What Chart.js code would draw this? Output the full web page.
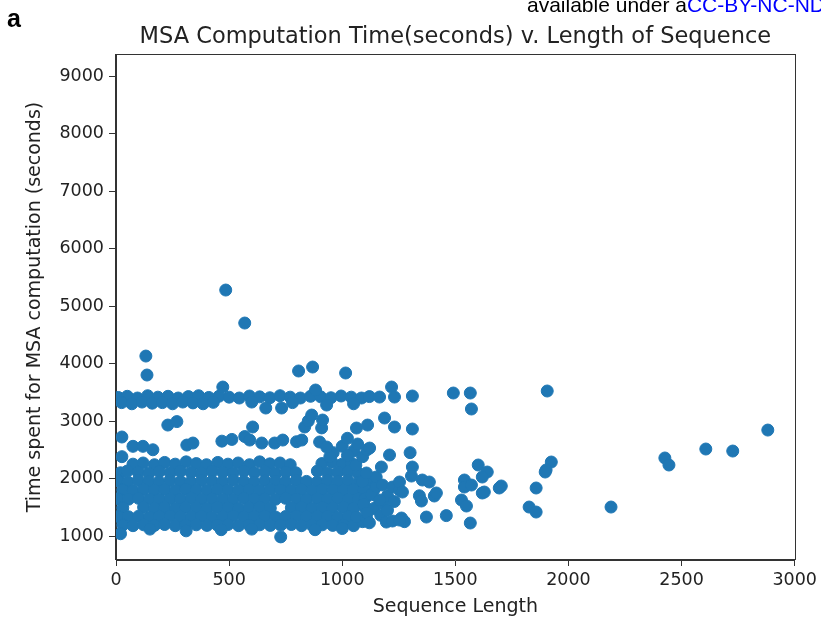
<!DOCTYPE html>
<html>
<head>
<meta charset="utf-8">
<script src="https://cdn.jsdelivr.net/npm/chart.js@4/dist/chart.umd.min.js"></script>
<style>
  html, body { margin: 0; padding: 0; background: #fff; }
  #wrap { position: relative; width: 821px; height: 624px; overflow: hidden; }
  #panelTag { position: absolute; left: 7px; top: 4px; font: bold 25px "Liberation Sans", Arial, sans-serif; color: #000; }
  #licence { position: absolute; left: 527px; top: -7px; white-space: nowrap; font: 21px "Liberation Sans", Arial, sans-serif; color: #000; }
  #licence span { color: #0000ff; }
  canvas { position: absolute; left: 0; top: 0; }
</style>
</head>
<body>
<div id="wrap">
  <canvas id="msaChart" width="821" height="624"></canvas>
  <div id="panelTag">a</div>
  <div id="licence">available under a<span>CC-BY-NC-ND 4.0 International license</span></div>
</div>
<script>
// [sequence length, seconds]
const denseRuns = [
  [75,2250],[120,2270],[170,2240],[215,2280],[262,2250],[310,2290],[355,2260],[400,2240],[450,2280],[495,2250],
  [540,2270],[590,2240],[635,2290],[680,2255],[725,2270],[770,2240],[910,2260],[955,2285],[1000,2250],[1040,2270],
  [20,2100],[50,2130],[98,2110],[145,2090],[192,2120],[240,2100],[285,2130],[332,2105],[378,2090],[425,2125],
  [472,2110],[518,2095],[565,2130],[612,2100],[658,2120],[705,2090],[750,2115],[795,2100],[890,2130],[935,2095],
  [980,2110],[1025,2120],[1070,2090],
  [10,1960],[52,1940],[98,1970],[145,1950],[190,1945],[238,1965],[285,1950],[330,1940],[378,1960],[425,1955],
  [470,1945],[518,1970],[565,1950],[610,1940],[658,1960],[705,1955],[750,1945],[798,1965],[842,1950],[890,1940],
  [935,1960],[980,1950],[1025,1965],[1075,1945],[1120,1960],
  [30,1800],[75,1790],[122,1810],[170,1795],[215,1805],[262,1790],[308,1815],[355,1800],[402,1790],[448,1810],
  [495,1800],[542,1795],[588,1805],[635,1790],[682,1810],[728,1800],[775,1795],[820,1805],[866,1790],[912,1810],
  [958,1800],[1005,1795],[1050,1810],[1095,1790],[1140,1805],
  [10,1650],[55,1640],[100,1655],[148,1645],[192,1635],[240,1650],[285,1645],[332,1655],[378,1640],[425,1650],
  [472,1645],[518,1635],[565,1655],[612,1645],[658,1650],[705,1640],[750,1655],[798,1645],[842,1635],[890,1650],
  [935,1645],[980,1655],[1028,1640],[1072,1650],
  [30,1490],[122,1500],[170,1485],[215,1495],[262,1480],[308,1500],[355,1490],[402,1485],[448,1500],[495,1490],
  [542,1480],[588,1495],[635,1500],[682,1485],[775,1490],[820,1500],[866,1485],[912,1495],[958,1490],[1005,1500],
  [1050,1485],[1100,1495],
  [10,1340],[55,1335],[100,1345],[148,1330],[192,1340],[240,1350],[285,1335],[332,1340],[378,1345],[425,1330],
  [472,1340],[518,1350],[565,1335],[612,1340],[658,1345],[705,1330],[750,1340],[798,1350],[842,1335],[890,1340],
  [935,1345],[980,1330],[1028,1340],
  [30,1190],[75,1180],[122,1195],[170,1185],[215,1200],[262,1180],[308,1190],[355,1195],[402,1185],[448,1190],
  [495,1200],[542,1180],[588,1190],[635,1195],[682,1185],[728,1190],[775,1200],[820,1180],[866,1190],[912,1195],
  [958,1185],[1005,1190],[1050,1180],
  [20,1040],[150,1120],[310,1090],[465,1110],[600,1120],[728,985],[880,1110],[1000,1130],[1090,1250],[1063,1330],
  [1107,1313],
  [1090,1950],[1100,1650],[1130,1720],[1095,1550],[1140,1480],[1110,1400],[1180,1560],[1200,1700],[1150,1860],
  [1170,1360],[1120,1230],[1200,1450],[1230,1600],[1060,2230],[1150,2026],[1107,2096],[1178,1887],[1222,1852],
  [1253,1800],[1253,1939],[1165,1626],[1173,2200],[1195,1243],[1222,1261],[1262,1313],[1275,1250],
  [960,2450],[1000,2560],[1050,2480],[1090,2380],[1110,2500],[945,2380],[1023,2400]
];

const plateauRuns = [
  [10,3410],[50,3430],[95,3400],[140,3440],[185,3415],[230,3430],[275,3400],[320,3425],[365,3440],[410,3410],
  [455,3430],[500,3415],[545,3400],[590,3435],[635,3420],[680,3405],[725,3440],[770,3415],[815,3400],[860,3430],
  [905,3420],[950,3405],[995,3435],[1040,3415],[1085,3400],[1120,3425],
  [25,3320],[70,3300],[115,3330],[160,3310],[205,3320],[250,3300],[295,3330],[340,3315],[385,3300],[430,3325],
  [472,3591],[882,3539],[1218,3591],[662,3226],[732,3226],[931,3278],[1050,3300],[1165,3417],[1231,3417],
  [1310,3435],[600,3330],[780,3320],[1491,3487],[1566,3487],[1571,3209],[1906,3522]
];

const sparseRuns = [
  [26,2722],[75,2560],[119,2560],[163,2500],[26,2380],[313,2582],[340,2617],[468,2650],[512,2680],[569,2730],
  [591,2669],[644,2617],[701,2617],[737,2669],[798,2640],[821,2669],[900,2635],[931,2548],[1023,2700],[1068,2600],
  [1121,2530],
  [229,2930],[269,2990],[604,2896],[834,2896],[850,3000],[865,3104],[909,2880],[913,3017],[1063,2878],[1112,2930],
  [1187,3052],[1231,2896],[1310,2861],
  [485,5278],[569,4704],[132,4130],[137,3800],[807,3870],[869,3939],[1015,3835],
  [1300,2450],[1209,2409],[1310,2200],[1306,2043],[1354,1974],[1385,1939],[1266,1765],[1341,1700],[1350,1609],
  [1407,1696],[1416,1748],[1253,1278],[1372,1330],[1460,1355],[1566,1226],
  [1601,2235],[1641,2113],[1619,2026],[1540,1974],[1540,1852],[1571,1887],[1619,1748],[1703,1870],[1694,1835],
  [1527,1626],[1549,1522],[1628,1765],
  [1857,1835],[1826,1504],[1857,1417],[1924,2287],[1901,2148],[1897,2113],
  [2188,1504],[2426,2357],[2444,2235],[2607,2513],[2726,2478],[2881,2843]
];

const xTicks = [0, 500, 1000, 1500, 2000, 2500, 3000];
const yTicks = [1000, 2000, 3000, 4000, 5000, 6000, 7000, 8000, 9000];

const chartTitle = 'MSA Computation Time(seconds) v. Length of Sequence';
const textColor = '#222';
const axisColor = '#333';
const fontFamily = '"DejaVu Sans", sans-serif';

const runs = denseRuns.concat(plateauRuns, sparseRuns).map(r => ({ x: r[0], y: r[1] }));

// matplotlib style box round the axes, title centred over the axes
const axesFrame = {
  id: 'axesFrame',
  afterDraw(chart) {
    const { ctx, chartArea: a } = chart;
    ctx.save();
    ctx.strokeStyle = axisColor;
    ctx.lineWidth = 1;
    ctx.strokeRect(Math.round(a.left) - 0.5, Math.round(a.top) + 0.5,
                   Math.round(a.right - a.left) + 1, Math.round(a.bottom - a.top) - 1);
    ctx.fillStyle = textColor;
    ctx.font = '22.5px ' + fontFamily;
    ctx.textAlign = 'center';
    ctx.textBaseline = 'middle';
    ctx.fillText(chartTitle, (a.left + a.right) / 2, a.top - 17);
    ctx.restore();
  }
};

new Chart(document.getElementById('msaChart'), {
  type: 'scatter',
  data: {
    datasets: [{
      data: runs,
      backgroundColor: '#1f77b4',
      borderColor: '#1f77b4',
      borderWidth: 1,
      pointRadius: 6,
      clip: 0
    }]
  },
  options: {
    responsive: false,
    animation: false,
    layout: { padding: { left: 0, right: 25, top: 54, bottom: 0 } },
    plugins: {
      legend: { display: false },
      tooltip: { enabled: false },
      title: { display: false }
    },
    scales: {
      x: {
        type: 'linear',
        min: 0,
        max: 3000,
        afterBuildTicks: s => { s.ticks = xTicks.map(v => ({ value: v })); },
        afterFit: s => { s.height = 64; },
        ticks: { color: textColor, font: { family: fontFamily, size: 17.5 }, padding: 4, maxRotation: 0,
                 callback: v => String(v) },
        grid: { display: true, drawOnChartArea: false, drawTicks: true, tickLength: 6, tickColor: axisColor },
        border: { display: true, color: axisColor },
        title: {
          display: true,
          text: 'Sequence Length',
          color: textColor,
          font: { family: fontFamily, size: 19 },
          padding: { top: 0, bottom: 6 }
        }
      },
      y: {
        type: 'linear',
        min: 583,
        max: 9383,
        afterBuildTicks: s => { s.ticks = yTicks.map(v => ({ value: v })); },
        afterFit: s => { s.width = 116; },
        ticks: { color: textColor, font: { family: fontFamily, size: 17.5 }, padding: 5,
                 callback: v => String(v) },
        grid: { display: true, drawOnChartArea: false, drawTicks: true, tickLength: 7, tickColor: axisColor },
        border: { display: true, color: axisColor },
        title: {
          display: true,
          text: 'Time spent for MSA computation (seconds)',
          color: textColor,
          font: { family: fontFamily, size: 19 },
          padding: { top: 24, bottom: 0 }
        }
      }
    }
  },
  plugins: [axesFrame]
});
</script>
</body>
</html>
